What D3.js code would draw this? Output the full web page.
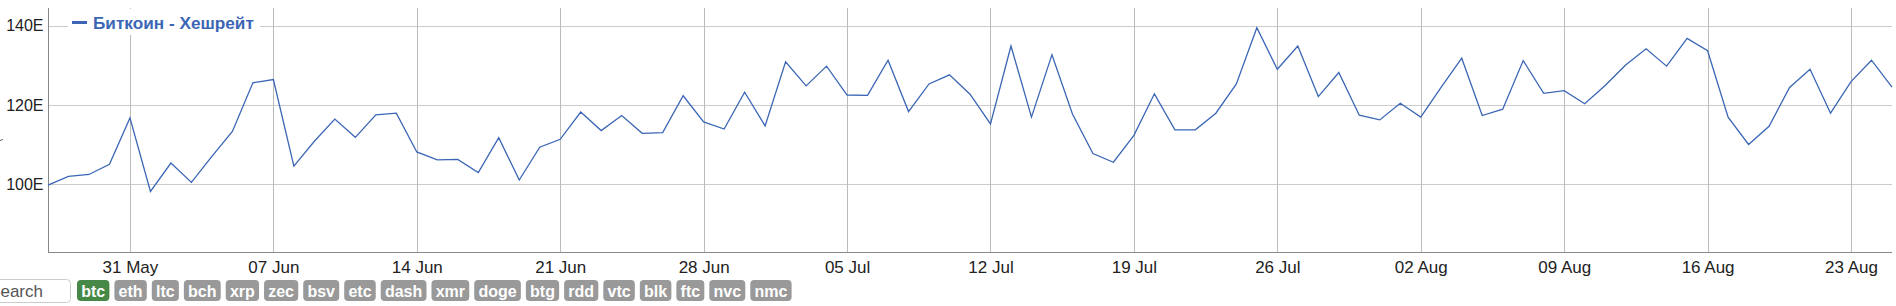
<!DOCTYPE html>
<html>
<head>
<meta charset="utf-8">
<script src="https://cdn.jsdelivr.net/npm/d3@7"></script>
<style>
  html, body { margin: 0; padding: 0; background: #fff; overflow: hidden; }
  svg { display: block; font-family: "Liberation Sans", Arial, sans-serif; }
</style>
</head>
<body>
<svg id="chart" width="1896" height="306"></svg>
<script>
// Data (daily hashrate, EH/s)
const startDate = '2020-05-27';
const hashrate = [
  99.7, 101.9, 102.4, 105.0, 116.7, 98.1, 105.3, 100.4, 107.0, 113.3,
  125.6, 126.4, 104.5, 110.8, 116.4, 111.8, 117.5, 117.9, 108.1, 106.1,
  106.2, 102.9, 111.7, 101.0, 109.3, 111.3, 118.2, 113.5, 117.3, 112.8,
  113.0, 122.3, 115.7, 113.9, 123.2, 114.7, 130.9, 124.8, 129.8, 122.5,
  122.4, 131.3, 118.3, 125.3, 127.6, 122.7, 115.2, 134.9, 116.9, 132.7,
  117.7, 107.7, 105.5, 112.3, 122.8, 113.7, 113.7, 117.9, 125.3, 139.5,
  129.0, 134.9, 122.1, 128.2, 117.4, 116.2, 120.4, 116.9, 124.5, 131.8,
  117.3, 118.9, 131.2, 122.9, 123.6, 120.3, 124.9, 130.1, 134.2, 129.8,
  136.8, 133.7, 116.9, 110.0, 114.6, 124.4, 129.0, 117.9, 125.9, 131.3,
  124.5
];
const yTicks = [100, 120, 140];
const seriesName = 'Биткоин - Хешрейт';
const coins = ['btc', 'eth', 'ltc', 'bch', 'xrp', 'zec', 'bsv', 'etc', 'dash',
  'xmr', 'doge', 'btg', 'rdd', 'vtc', 'blk', 'ftc', 'nvc', 'nmc'];
const activeCoin = 'btc';

const parse = d3.timeParse('%Y-%m-%d');
const t0 = parse(startDate);
const points = hashrate.map((v, i) => ({ date: d3.timeDay.offset(t0, i), value: v }));

const plot = { left: 48, right: 1892, top: 8, bottom: 252 };
const svg = d3.select('#chart');

const x = d3.scaleTime()
  .domain(d3.extent(points, d => d.date))
  .range([plot.left, plot.right]);
const y = d3.scaleLinear()
  .domain([82.8, 144.5])
  .range([plot.bottom, plot.top]);

const xTicks = d3.timeWeek.every(1).range(d3.timeDay.offset(t0, 1), x.domain()[1]);

// grid
svg.append('g')
  .selectAll('line')
  .data(yTicks)
  .join('line')
  .attr('x1', plot.left).attr('x2', plot.right)
  .attr('y1', d => Math.round(y(d)) + 0.5).attr('y2', d => Math.round(y(d)) + 0.5)
  .attr('stroke', '#cccccc');

svg.append('g')
  .selectAll('line')
  .data(xTicks)
  .join('line')
  .attr('x1', d => Math.round(x(d)) + 0.5).attr('x2', d => Math.round(x(d)) + 0.5)
  .attr('y1', plot.top).attr('y2', plot.bottom)
  .attr('stroke', '#bbbbbb');

// axes
const yAxis = svg.append('g')
  .attr('transform', `translate(${plot.left + 0.5},0)`)
  .call(d3.axisLeft(y).tickValues(yTicks).tickSize(0).tickPadding(5).tickFormat(d => d + 'E'));
yAxis.select('.domain').attr('stroke', '#888').attr('d', `M0,${plot.top}V${plot.bottom}`);
yAxis.selectAll('text').attr('font-size', 16).attr('fill', '#222').attr('font-family', null);

const xAxis = svg.append('g')
  .attr('transform', `translate(0,${plot.bottom + 0.5})`)
  .call(d3.axisBottom(x).tickValues(xTicks).tickSize(0).tickPadding(8).tickFormat(d3.timeFormat('%d %b')));
xAxis.select('.domain').attr('stroke', '#888').attr('d', `M${plot.left},0H${plot.right}`);
xAxis.selectAll('text').attr('font-size', 17).attr('fill', '#222').attr('font-family', null);

// small mark left of the y axis
svg.append('line')
  .attr('x1', 0).attr('x2', 3).attr('y1', 140.5).attr('y2', 139.5)
  .attr('stroke', '#666');

// series
svg.append('path')
  .datum(points)
  .attr('fill', 'none')
  .attr('stroke', '#3b66b5')
  .attr('stroke-width', 1.3)
  .attr('stroke-linejoin', 'miter')
  .attr('d', d3.line().x(d => x(d.date)).y(d => y(d.value)));

// legend
const legend = svg.append('g');
legend.append('rect')
  .attr('x', 68).attr('y', plot.top + 1).attr('width', 192).attr('height', 26)
  .attr('fill', '#fff');
legend.append('line')
  .attr('x1', 72).attr('x2', 87).attr('y1', 22.5).attr('y2', 22.5)
  .attr('stroke', '#3b66b5').attr('stroke-width', 3);
legend.append('text')
  .attr('x', 93).attr('y', 28.5)
  .attr('font-size', 17.2).attr('font-weight', 'bold')
  .attr('fill', '#3b66b5')
  .text(seriesName);

// search box + coin buttons
const bar = svg.append('g');
bar.append('rect')
  .attr('x', -10.5).attr('y', 279.5).attr('width', 81).attr('height', 23).attr('rx', 4)
  .attr('fill', '#fff').attr('stroke', '#ccc');
bar.append('text')
  .attr('x', 43).attr('y', 297).attr('text-anchor', 'end')
  .attr('font-size', 17).attr('fill', '#555')
  .text('Search');

let bx = 77;
coins.forEach(c => {
  const g = bar.append('g');
  const r = g.append('rect');
  const t = g.append('text')
    .attr('y', 296.5)
    .attr('font-size', 16).attr('font-weight', 'bold')
    .attr('fill', '#fff')
    .text(c);
  const w = t.node().getComputedTextLength() + 8.4;
  t.attr('x', bx + 4.2);
  r.attr('x', bx).attr('y', 280).attr('width', w).attr('height', 21).attr('rx', 4)
    .attr('fill', c === activeCoin ? '#468847' : '#999999');
  bx += w + 5;
});
</script>
</body>
</html>
